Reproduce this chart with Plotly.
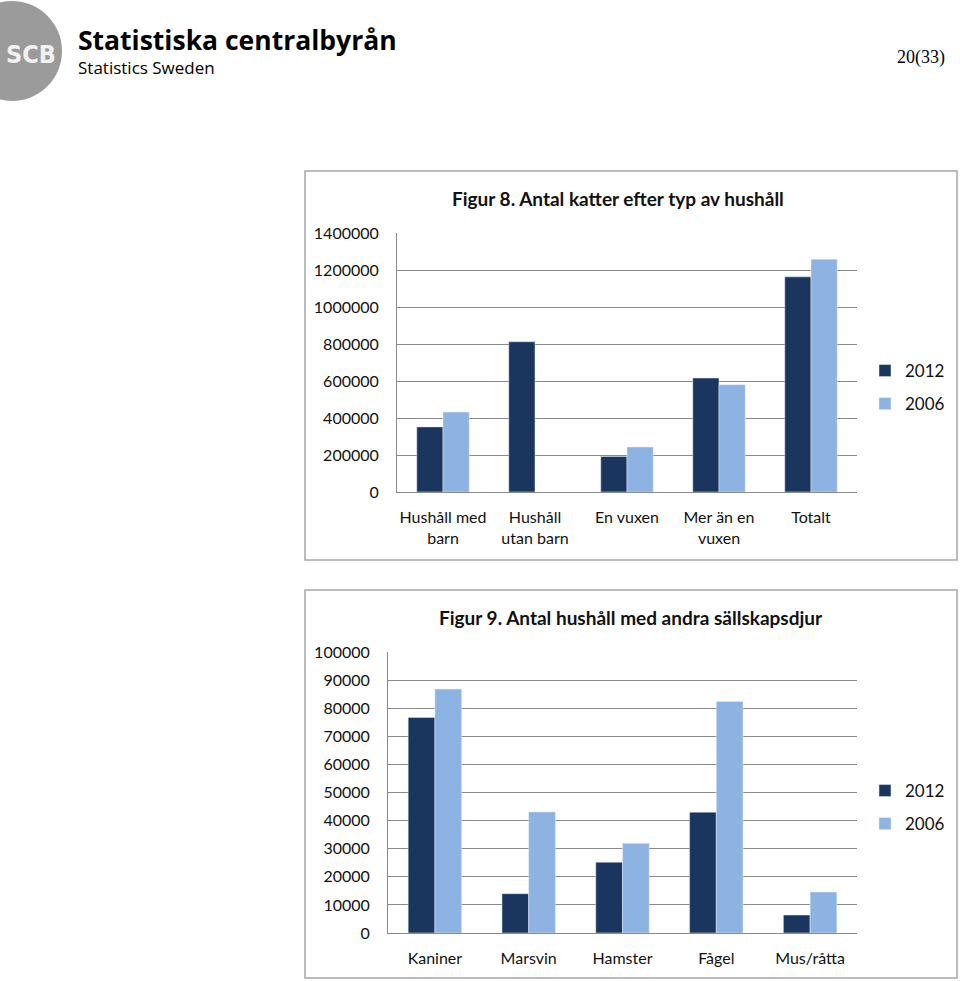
import plotly.graph_objects as go

# Figur 8 data
kategorier_8 = ["Hushåll med<br>barn", "Hushåll<br>utan barn", "En vuxen", "Mer än en<br>vuxen", "Totalt"]
katter_2012 = [352000, 812000, 192000, 616000, 1163000]
katter_2006 = [432000, None, 243000, 580000, 1258000]
yticks_8 = [0, 200000, 400000, 600000, 800000, 1000000, 1200000, 1400000]

# Figur 9 data
kategorier_9 = ["Kaniner", "Marsvin", "Hamster", "Fågel", "Mus/råtta"]
djur_2012 = [76700, 14000, 25200, 43000, 6400]
djur_2006 = [86800, 43100, 31900, 82400, 14600]
yticks_9 = [0, 10000, 20000, 30000, 40000, 50000, 60000, 70000, 80000, 90000, 100000]

W, H = 960, 981
DARK = "#1b365e"
LIGHT = "#8db3e2"
GRID = "#8a8a8a"
FONT = "Lato"

def px(x):
    return x / W

def py(y):
    return 1 - y / H

fig = go.Figure()

fig.add_trace(go.Bar(x=kategorier_8, y=katter_2012, name="2012", marker_color=DARK,
                     xaxis="x", yaxis="y", legend="legend", legendgroup="a"))
fig.add_trace(go.Bar(x=kategorier_8, y=katter_2006, name="2006", marker_color=LIGHT,
                     xaxis="x", yaxis="y", legend="legend", legendgroup="b"))
fig.add_trace(go.Bar(x=kategorier_9, y=djur_2012, name="2012", marker_color=DARK,
                     xaxis="x2", yaxis="y2", legend="legend2", legendgroup="c"))
fig.add_trace(go.Bar(x=kategorier_9, y=djur_2006, name="2006", marker_color=LIGHT,
                     xaxis="x2", yaxis="y2", legend="legend2", legendgroup="d"))

axis_font = dict(family=FONT, size=16, color="#111111")

xcommon = dict(showline=True, linecolor=GRID, linewidth=1, ticks="", tickfont=axis_font,
               ticklabelstandoff=11, showgrid=False, fixedrange=True, automargin=False)
ycommon = dict(showline=True, linecolor=GRID, linewidth=1, showgrid=True, gridcolor=GRID,
               gridwidth=1, zeroline=False, tickfont=axis_font, ticks="outside",
               ticklen=14, tickcolor="rgba(0,0,0,0)", automargin=False, fixedrange=True)

legend_common = dict(font=dict(family=FONT, size=17, color="#111111"), bgcolor="rgba(0,0,0,0)",
                     tracegroupgap=8, itemwidth=30, xanchor="left", yanchor="top")

fig.update_layout(
    width=W, height=H,
    margin=dict(l=0, r=0, t=0, b=0, pad=0, autoexpand=False),
    paper_bgcolor="white", plot_bgcolor="white",
    barmode="group", bargap=0.43, bargroupgap=0,
    showlegend=True,
    xaxis=dict(domain=[px(397), px(857)], anchor="y", **xcommon),
    yaxis=dict(domain=[py(492), py(233)], anchor="x", range=[0, 1400000], tickvals=yticks_8,
               tickformat="d", **ycommon),
    xaxis2=dict(domain=[px(388), px(857)], anchor="y2", **xcommon),
    yaxis2=dict(domain=[py(933), py(652)], anchor="x2", range=[0, 100000], tickvals=yticks_9,
                tickformat="d", **ycommon),
    legend=dict(x=px(865), y=py(353), **legend_common),
    legend2=dict(x=px(865), y=py(773), **legend_common),
)

# chart boxes
for y0, y1 in [(171, 560), (590, 978)]:
    fig.add_shape(type="rect", xref="paper", yref="paper", x0=px(305), x1=px(957),
                  y0=py(y1), y1=py(y0), line=dict(color="#a6a6a6", width=1.5), layer="below")

def text(t, x, y, size, family=FONT, color="#111111", xanchor="center"):
    fig.add_annotation(text=t, xref="paper", yref="paper", x=px(x), y=py(y), showarrow=False,
                       xanchor=xanchor, yanchor="middle", font=dict(family=family, size=size, color=color))

# titles
text("<b>Figur 8. Antal katter efter typ av hushåll</b>", 618, 198, 19)
text("<b>Figur 9. Antal hushåll med andra sällskapsdjur</b>", 631, 617, 19)

# SCB logo
fig.add_shape(type="circle", xref="paper", yref="paper", x0=px(-38), x1=px(62),
              y0=py(101), y1=py(1), fillcolor="#9b9b9b", line=dict(width=0))
text("<b>SCB</b>", 31, 54, 25, family="DejaVu Sans Condensed", color="#f2f2f2")
text("<b>Statistiska centralbyrån</b>", 76, 40, 26.5, family="Open Sans", color="black", xanchor="left")
text("Statistics Sweden", 76, 67, 17, family="Open Sans", color="black", xanchor="left")

# page number
text("20(33)", 947, 57, 18, family="Liberation Serif", color="black", xanchor="right")

fig.write_html("out.html", config={"displayModeBar": False},
               post_script="document.body.style.margin='0';")
